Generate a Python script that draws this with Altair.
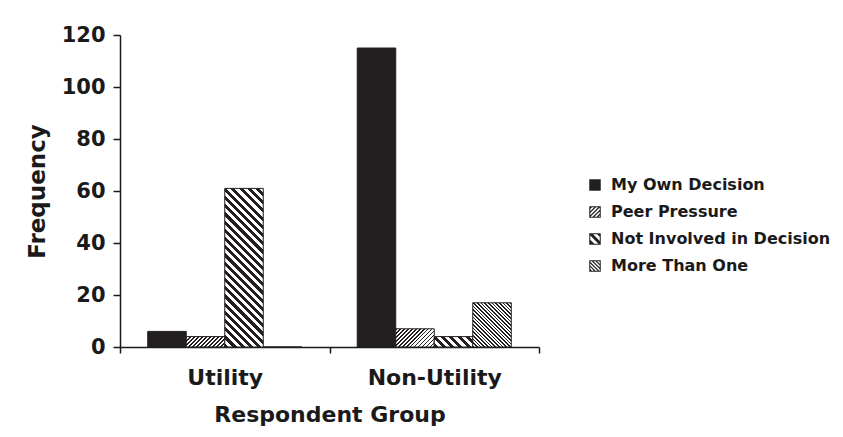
import math
import altair as alt
import pandas as pd

# ---------------- data ----------------
groups = ["Utility", "Non-Utility"]
reasons = ["My Own Decision", "Peer Pressure", "Not Involved in Decision", "More Than One"]
utility_counts = [6, 4, 61, 0]
non_utility_counts = [115, 7, 4, 17]
y_ticks = [0, 20, 40, 60, 80, 100, 120]

rows = []
for g, counts in zip(groups, [utility_counts, non_utility_counts]):
    for r, v in zip(reasons, counts):
        rows.append({"group": g, "reason": r, "count": v})
df = pd.DataFrame(rows)

# ---------------- styling ----------------
W, H = 419, 312
YMAX = 120
DARK = "#231f20"
TEXT = "#1a1a1a"
FONT = "DejaVu Sans"
OFFSET_PAD = 0.72  # outer padding of the within-group scale

# (direction, period px, dark fraction) ; None = solid
patterns = {
    "My Own Decision": None,
    "Peer Pressure": ("/", 2.8, 0.45),
    "Not Involved in Decision": ("\\", 5.8, 0.5),
    "More Than One": ("\\", 2.6, 0.45),
}

bar_w = (W / len(groups)) / (len(reasons) + 2 * OFFSET_PAD)


def hatch_gradient(direction, period, frac, w, h):
    k = (w + h) / (w * w + h * h)
    if direction == "/":
        x1, y1, x2, y2 = 0, 0, k * w, k * h
    else:
        x1, y1, x2, y2 = 0, 1, k * w, 1 - k * h
    span = (w + h) / math.sqrt(2)
    stops = []
    i = 0
    while i * period < span:
        a = i * period / span
        b = min((i * period + frac * period) / span, 1)
        c = min((i + 1) * period / span, 1)
        stops += [
            {"offset": round(a, 5), "color": DARK},
            {"offset": round(b, 5), "color": DARK},
            {"offset": round(b, 5), "color": "white"},
            {"offset": round(c, 5), "color": "white"},
        ]
        i += 1
    return {"gradient": "linear", "x1": x1, "y1": y1, "x2": x2, "y2": y2, "stops": stops}


conds = []
for _, row in df.iterrows():
    p = patterns[row["reason"]]
    if p is None or row["count"] == 0:
        continue
    h = row["count"] * H / YMAX
    conds.append({
        "test": f"datum.group === '{row['group']}' && datum.reason === '{row['reason']}'",
        "value": hatch_gradient(*p, bar_w, h),
    })


# ----- legend symbols: hatched squares as custom SVG paths -----
def clip(poly, a, b, c):
    out = []
    n = len(poly)
    for i in range(n):
        P, Q = poly[i], poly[(i + 1) % n]
        fp = a * P[0] + b * P[1] - c
        fq = a * Q[0] + b * Q[1] - c
        if fp <= 0:
            out.append(P)
        if (fp < 0 < fq) or (fq < 0 < fp):
            t = fp / (fp - fq)
            out.append((P[0] + t * (Q[0] - P[0]), P[1] + t * (Q[1] - P[1])))
    return out


def poly_path(poly):
    return "M" + "L".join(f"{x:.3f},{y:.3f}" for x, y in poly) + "Z"


SYM_SIDE = 11.5


def symbol_path(pattern):
    if pattern is None:
        return "M-1,-1L1,-1L1,1L-1,1Z"
    direction, period, frac = pattern
    r = SYM_SIDE / 2
    t = 1.0 / r
    m = 1 - t
    path = "M-1,-1L1,-1L1,1L-1,1Z" + f"M{-m:.3f},{-m:.3f}L{-m:.3f},{m:.3f}L{m:.3f},{m:.3f}L{m:.3f},{-m:.3f}Z"
    sq = [(-m, -m), (m, -m), (m, m), (-m, m)]
    d = period * math.sqrt(2) / r
    sgn = 1 if direction == "/" else -1
    c = -2 * m
    while c < 2 * m:
        c1, c2 = c, c + frac * d
        poly = clip(sq, -1, -sgn, -c1)
        poly = clip(poly, 1, sgn, c2)
        if len(poly) >= 3:
            path += poly_path(poly)
        c += d
    return path


sym_paths = [symbol_path(patterns[r]) for r in reasons]

# ---------------- chart ----------------
x_enc = alt.X(
    "group:N",
    sort=groups,
    scale=alt.Scale(paddingInner=0, paddingOuter=0),
    axis=alt.Axis(
        title="Respondent Group",
        labelAngle=0,
        labelAlign="center",
        tickBand="extent",
        tickSize=6,
        labelPadding=24,
        titlePadding=16,
        labelFont=FONT, labelFontSize=22, labelFontWeight="bold", labelColor=TEXT,
        titleFont=FONT, titleFontSize=22, titleFontWeight="bold", titleColor=TEXT,
        domainColor=TEXT, tickColor=TEXT, domainWidth=1.5, tickWidth=1.5,
    ),
)
xoff_enc = alt.XOffset(
    "reason:N", sort=reasons, scale=alt.Scale(paddingInner=0, paddingOuter=OFFSET_PAD)
)
y_enc = alt.Y(
    "count:Q",
    scale=alt.Scale(domain=[0, YMAX], nice=False),
    axis=alt.Axis(
        title="Frequency",
        values=y_ticks,
        grid=False,
        tickSize=7,
        labelPadding=8,
        titlePadding=12,
        labelFont=FONT, labelFontSize=21, labelFontWeight="bold", labelColor=TEXT,
        titleFont=FONT, titleFontSize=23, titleFontWeight="bold", titleColor=TEXT,
        domainColor=TEXT, tickColor=TEXT, domainWidth=1.5, tickWidth=1.5,
    ),
)

bars = alt.Chart(df).mark_bar(stroke=DARK, strokeWidth=1).encode(
    x=x_enc,
    xOffset=xoff_enc,
    y=y_enc,
    fill=alt.value(DARK, condition=conds),
)

legend = alt.Legend(
    title=None,
    orient="none",
    legendX=467,
    legendY=142,
    padding=0,
    labelFont=FONT,
    labelFontSize=16,
    labelFontWeight="bold",
    labelColor=TEXT,
    labelOffset=8,
    labelLimit=400,
    symbolSize=SYM_SIDE * SYM_SIDE,
    symbolStrokeWidth=0,
    symbolOpacity=1,
    rowPadding=11,
)

legend_layer = alt.Chart(df).mark_point(filled=True, opacity=0).encode(
    x=alt.X("group:N", sort=groups),
    xOffset=alt.XOffset("reason:N", sort=reasons),
    y=alt.Y("count:Q"),
    color=alt.Color("reason:N", sort=reasons,
                    scale=alt.Scale(domain=reasons, range=[DARK] * 4), legend=legend),
    shape=alt.Shape("reason:N", sort=reasons,
                    scale=alt.Scale(domain=reasons, range=sym_paths), legend=legend),
)

chart = (
    alt.layer(legend_layer, bars)
    .properties(
        width=W,
        height=H,
        autosize=alt.AutoSizeParams(type="none"),
        padding={"left": 112, "top": 27, "right": 296, "bottom": 82},
    )
    .configure(background="white")
    .configure_view(stroke=None)
)

chart.save("out.html", embed_options={"renderer": "svg", "actions": False})
